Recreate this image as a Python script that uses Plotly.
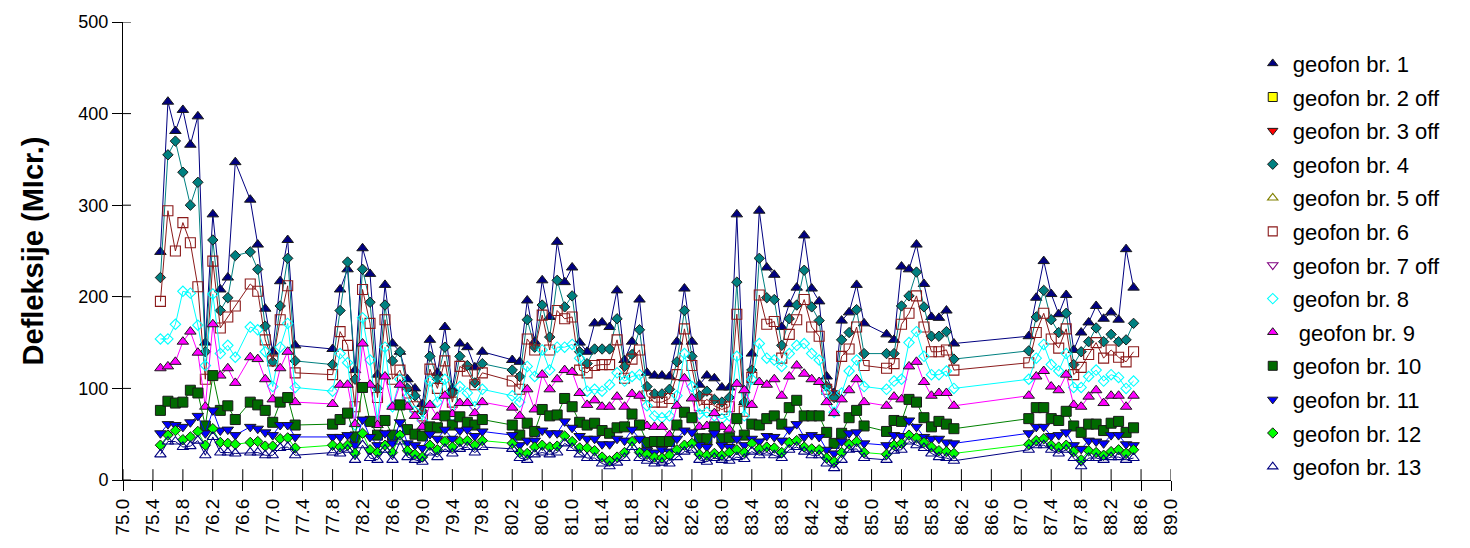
import plotly.graph_objects as go

# Chainage of measuring points (km)
stacionaza = [
    75.5, 75.6, 75.7, 75.8, 75.9, 76.0, 76.1, 76.2, 76.3, 76.4, 76.5, 76.7, 76.8, 76.9, 77.0, 77.1, 77.2, 77.3,
    77.8, 77.9, 78.0, 78.1, 78.2, 78.3, 78.4, 78.5, 78.6, 78.7, 78.8, 78.9, 79.0, 79.1, 79.2, 79.3, 79.4, 79.5, 79.6, 79.7, 79.8,
    80.2, 80.3, 80.4, 80.5, 80.6, 80.7, 80.8, 80.9, 81.0, 81.1, 81.2, 81.3, 81.4, 81.5, 81.6, 81.7, 81.8, 81.9,
    82.0, 82.1, 82.2, 82.3, 82.4, 82.5, 82.6, 82.7, 82.8, 82.9, 83.0, 83.1, 83.2, 83.3, 83.4, 83.5, 83.6, 83.7,
    83.8, 83.9, 84.0, 84.1, 84.2, 84.3, 84.4, 84.5, 84.6, 84.7, 84.8, 84.9,
    85.2, 85.3, 85.4, 85.5, 85.6, 85.7, 85.8, 85.9, 86.0, 86.1,
    87.1, 87.2, 87.3, 87.4, 87.5, 87.6, 87.7, 87.8, 87.9, 88.0, 88.1, 88.2, 88.3, 88.4, 88.5,
]

# Deflections per geophone (microns)
geofon_1 = [
    249, 413, 381, 404, 366, 397, 150, 290, 208, 221, 347, 306, 257, 187, 140, 217, 262, 147,
    143, 208, 230, 120, 253, 225, 115, 213, 149, 140, 110, 100, 83, 153, 117, 167, 100, 149, 145, 123, 140,
    131, 129, 196, 151, 218, 178, 260, 216, 232, 150, 140, 171, 172, 167, 207, 131, 151, 197,
    117, 114, 114, 113, 151, 209, 151, 104, 114, 111, 101, 101, 290, 85, 138, 294, 232, 224,
    167, 192, 210, 267, 209, 195, 113, 95, 174, 183, 213, 171,
    159, 153, 233, 230, 257, 214, 178, 177, 185, 149,
    157, 199, 239, 203, 181, 202, 142, 161, 172, 190, 176, 183, 175, 252, 210,
]
geofon_4 = [
    221, 355, 370, 336, 300, 325, 140, 262, 185, 199, 245, 249, 230, 168, 129, 190, 242, 130,
    126, 185, 238, 110, 230, 194, 100, 191, 130, 140, 100, 92, 75, 135, 110, 145, 95, 135, 125, 106, 127,
    120, 113, 175, 145, 191, 156, 218, 189, 201, 140, 127, 143, 143, 143, 176, 124, 137, 164,
    102, 94, 94, 99, 129, 185, 135, 92, 97, 88, 85, 90, 216, 85, 120, 242, 199, 197,
    147, 176, 191, 229, 189, 174, 102, 90, 153, 161, 186, 138,
    138, 138, 190, 201, 227, 189, 157, 157, 162, 132,
    141, 178, 207, 175, 161, 182, 126, 140, 151, 166, 151, 159, 151, 153, 171,
]
geofon_6 = [
    195, 294, 250, 281, 259, 211, 110, 239, 166, 178, 190, 214, 206, 153, 130, 175, 212, 117,
    115, 162, 147, 80, 208, 171, 90, 175, 110, 120, 95, 80, 70, 121, 100, 130, 85, 124, 119, 104, 117,
    108, 99, 154, 142, 180, 142, 185, 176, 178, 120, 117, 125, 126, 126, 153, 111, 132, 142,
    92, 85, 85, 89, 115, 165, 125, 81, 88, 81, 77, 80, 181, 75, 112, 202, 170, 173,
    133, 159, 175, 197, 167, 157, 99, 92, 135, 143, 167, 125,
    122, 127, 170, 182, 201, 167, 140, 140, 142, 120,
    128, 161, 182, 154, 144, 165, 115, 123, 137, 150, 133, 142, 134, 129, 140,
]
geofon_8 = [
    154, 154, 170, 206, 204, 169, 125, 203, 138, 147, 134, 167, 164, 140, 102, 145, 171, 101,
    97, 138, 128, 60, 177, 131, 65, 145, 80, 110, 90, 75, 65, 108, 85, 110, 70, 102, 95, 80, 99,
    92, 85, 124, 113, 142, 120, 145, 145, 148, 133, 97, 99, 97, 104, 117, 108, 113, 115,
    81, 70, 68, 70, 92, 138, 102, 72, 74, 70, 67, 70, 135, 70, 110, 149, 133, 131,
    124, 138, 147, 149, 138, 131, 95, 74, 95, 119, 131, 102,
    99, 108, 110, 150, 162, 135, 115, 115, 119, 100,
    110, 133, 148, 126, 119, 138, 101, 101, 113, 120, 108, 115, 112, 100, 108,
]
geofon_9 = [
    122, 124, 129, 151, 162, 139, 80, 170, 114, 122, 106, 134, 132, 110, 88, 122, 140, 85,
    83, 104, 104, 61, 149, 104, 60, 113, 80, 104, 80, 70, 58, 82, 69, 92, 72, 84, 84, 73, 85,
    79, 70, 99, 77, 115, 99, 110, 120, 118, 95, 82, 87, 80, 80, 91, 80, 94, 92,
    59, 58, 58, 49, 81, 111, 89, 58, 59, 73, 58, 55, 105, 98, 82, 107, 104, 110,
    92, 113, 125, 116, 110, 107, 85, 73, 88, 98, 110, 85,
    81, 91, 88, 124, 129, 107, 92, 95, 95, 81,
    92, 113, 119, 102, 98, 115, 82, 80, 91, 98, 84, 92, 92, 80, 92,
]
geofon_10 = [
    76, 86, 84, 85, 98, 95, 59, 114, 76, 81, 66, 85, 82, 76, 63, 85, 90, 60,
    61, 66, 73, 47, 101, 64, 49, 65, 49, 82, 55, 50, 48, 58, 57, 70, 60, 69, 63, 60, 66,
    60, 49, 62, 53, 77, 70, 71, 89, 80, 63, 60, 62, 54, 51, 57, 58, 72, 60,
    41, 42, 42, 42, 60, 74, 68, 45, 45, 58, 45, 46, 67, 49, 61, 60, 67, 70,
    61, 79, 87, 70, 70, 70, 52, 40, 51, 68, 76, 59,
    53, 65, 64, 88, 85, 68, 58, 64, 61, 56,
    67, 79, 79, 67, 65, 75, 59, 52, 61, 61, 54, 62, 64, 52, 57,
]
geofon_11 = [
    51, 61, 60, 58, 63, 70, 51, 76, 54, 55, 49, 58, 56, 52, 49, 60, 60, 47,
    47, 47, 49, 38, 66, 47, 38, 51, 40, 63, 40, 38, 35, 50, 45, 55, 45, 54, 55, 48, 53,
    49, 38, 43, 43, 54, 51, 51, 64, 57, 48, 45, 45, 39, 39, 45, 43, 55, 45,
    32, 30, 33, 31, 45, 54, 52, 38, 36, 51, 38, 36, 45, 38, 45, 42, 48, 47,
    43, 55, 61, 47, 49, 47, 33, 29, 42, 51, 52, 40,
    38, 49, 48, 65, 58, 47, 45, 45, 41, 40,
    51, 58, 58, 48, 49, 52, 38, 34, 43, 42, 40, 49, 49, 39, 38,
]
geofon_12 = [
    38, 49, 54, 44, 47, 53, 38, 56, 41, 40, 39, 41, 42, 37, 37, 45, 46, 35,
    38, 36, 38, 29, 51, 33, 30, 38, 30, 49, 32, 28, 25, 38, 33, 42, 36, 42, 43, 38, 43,
    40, 30, 29, 36, 38, 36, 37, 48, 42, 35, 35, 32, 25, 21, 25, 30, 42, 30,
    28, 25, 24, 27, 33, 38, 40, 28, 27, 29, 27, 30, 33, 30, 40, 34, 36, 35,
    30, 41, 43, 36, 34, 33, 24, 20, 30, 39, 42, 30,
    28, 38, 40, 49, 46, 41, 36, 32, 31, 29,
    39, 43, 45, 38, 36, 38, 31, 22, 32, 30, 27, 31, 33, 29, 33,
]
geofon_13 = [
    28, 42, 42, 36, 37, 43, 27, 47, 30, 30, 29, 30, 30, 27, 27, 35, 36, 27,
    30, 29, 33, 22, 38, 24, 22, 33, 22, 42, 25, 22, 20, 30, 25, 34, 29, 34, 36, 30, 36,
    34, 24, 22, 28, 30, 28, 30, 40, 35, 28, 24, 24, 18, 15, 19, 24, 36, 24,
    21, 18, 19, 18, 25, 31, 33, 22, 20, 24, 22, 21, 25, 23, 31, 27, 30, 27,
    24, 33, 36, 31, 27, 27, 18, 13, 22, 33, 34, 24,
    22, 32, 33, 42, 38, 35, 29, 25, 24, 21,
    33, 38, 38, 33, 29, 33, 24, 15, 24, 24, 22, 25, 25, 22, 24,
]

# Axis tick values
x_ticks = [75.0, 75.4, 75.8, 76.2, 76.6, 77.0, 77.4, 77.8, 78.2, 78.6, 79.0, 79.4, 79.8,
           80.2, 80.6, 81.0, 81.4, 81.8, 82.2, 82.6, 83.0, 83.4, 83.8, 84.2, 84.6,
           85.0, 85.4, 85.8, 86.2, 86.6, 87.0, 87.4, 87.8, 88.2, 88.6, 89.0]
y_ticks = [0, 100, 200, 300, 400, 500]

# Legend names (geophones marked "off" carry no readings)
nazivi = [
    "geofon br. 1", "geofon br. 2 off", "geofon br. 3 off", "geofon br. 4",
    "geofon br. 5 off", "geofon br. 6", "geofon br. 7 off", "geofon br. 8",
    " geofon br. 9", "geofon br. 10", "geofon br. 11", "geofon br. 12", "geofon br. 13",
]
podaci = [geofon_1, None, None, geofon_4, None, geofon_6, None, geofon_8,
          geofon_9, geofon_10, geofon_11, geofon_12, geofon_13]

# (marker symbol, marker colour, line colour, marker size)
stilovi = [
    ("triangle-up", "#000080", "#000080", 10),
    ("square", "#FFFF00", "#FFFF00", 9),
    ("triangle-down", "#FF0000", "#FF0000", 10),
    ("diamond", "#008080", "#008080", 8),
    ("triangle-up-open", "#808000", "#808000", 10),
    ("square-open", "#8B1A1A", "#8B1A1A", 10),
    ("triangle-down-open", "#800080", "#800080", 10),
    ("diamond-open", "#00FFFF", "#00FFFF", 8),
    ("triangle-up", "#FF00FF", "#FF00FF", 10),
    ("square", "#006A00", "#008000", 10),
    ("triangle-down", "#0000FF", "#0000FF", 10),
    ("diamond", "#00FF00", "#00FF00", 8),
    ("triangle-up-open", "#000080", "#000080", 10),
]
legend_sizes = [9, 9, 9, 8, 9, 9, 9, 8, 9, 9, 9, 8, 9]

X_RANGE = [75.0, 89.0]
Y_RANGE = [0, 500]
PLOT_W, PLOT_H = 1048, 465          # plot area in pixels
X_PER_PX = (X_RANGE[1] - X_RANGE[0]) / PLOT_W
Y_PER_PX = (Y_RANGE[1] - Y_RANGE[0]) / PLOT_H

FONT = "Liberation Sans, Arial, sans-serif"
fig = go.Figure()


def marker_style(sym, col, size):
    if sym.endswith("-open"):
        return dict(symbol=sym, size=size, color=col, line=dict(color=col, width=1.1))
    return dict(symbol=sym, size=size, color=col, line=dict(color="#1a1a1a", width=1))


# Inner halves of the tick marks (the axes draw the outer halves),
# so each tick crosses its axis line.
tx, ty = [], []
for v in x_ticks:
    tx += [v, v, None]
    ty += [Y_RANGE[0], Y_RANGE[0] + 11 * Y_PER_PX, None]
for v in y_ticks:
    tx += [X_RANGE[0], X_RANGE[0] + 8 * X_PER_PX, None]
    ty += [v, v, None]
fig.add_trace(go.Scatter(x=tx, y=ty, mode="lines", line=dict(color="black", width=1),
                         showlegend=False, hoverinfo="skip", cliponaxis=False))

# Measured series
for naziv, vrijednosti, (sym, col, lcol, size) in zip(nazivi, podaci, stilovi):
    if vrijednosti is None:
        continue
    fig.add_trace(go.Scatter(
        x=stacionaza, y=vrijednosti, mode="lines+markers", name=naziv,
        line=dict(color=lcol, width=1), marker=marker_style(sym, col, size),
        showlegend=False,
    ))

# Legend entries (marker only)
for i, (naziv, (sym, col, lcol, size), ls) in enumerate(zip(nazivi, stilovi, legend_sizes)):
    fig.add_trace(go.Scatter(
        x=[None], y=[None], mode="markers", name=naziv,
        marker=marker_style(sym, col, ls), legendgroup=f"g{i}", showlegend=True,
    ))

fig.update_layout(
    width=1470, height=548,
    margin=dict(l=123, r=299, t=17, b=66),
    paper_bgcolor="white", plot_bgcolor="white",
    font=dict(family=FONT, color="black"),
    xaxis=dict(
        range=X_RANGE, tickmode="array", tickvals=x_ticks,
        ticktext=[f"{v:.1f}" for v in x_ticks],
        tickangle=-90, ticks="outside", ticklen=10, tickwidth=1, tickcolor="black",
        showline=True, linecolor="black", linewidth=1, showgrid=False, zeroline=False,
        tickfont=dict(size=19, family=FONT),
    ),
    yaxis=dict(
        range=Y_RANGE, tickmode="array", tickvals=y_ticks,
        ticks="outside", ticklen=10, tickwidth=1, tickcolor="black",
        showline=True, linecolor="black", linewidth=1, showgrid=False, zeroline=False,
        tickfont=dict(size=18, family=FONT),
        title=dict(text="<b>Defleksije (MIcr.)</b>", font=dict(size=29, family=FONT), standoff=26),
    ),
    legend=dict(
        x=1.078, y=0.955, xanchor="left", yanchor="top",
        font=dict(size=22, family=FONT), tracegroupgap=2,
        bgcolor="rgba(0,0,0,0)", borderwidth=0, itemwidth=30,
    ),
    showlegend=True,
)

fig.write_html("out.html")
